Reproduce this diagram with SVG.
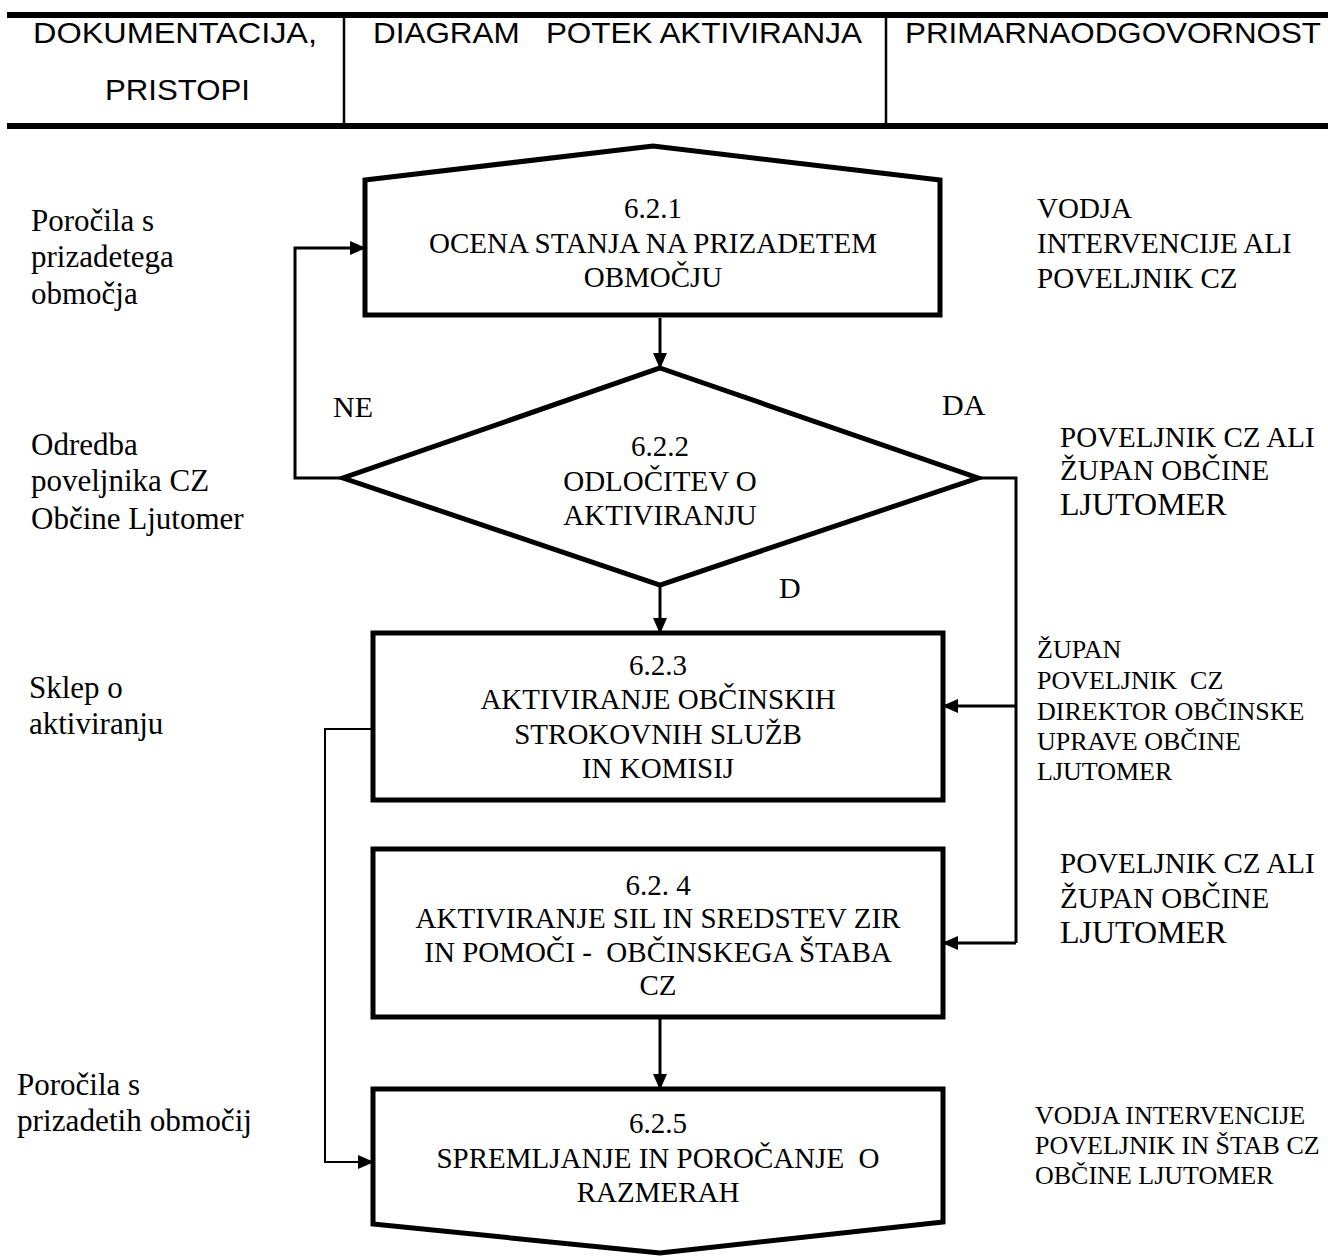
<svg xmlns="http://www.w3.org/2000/svg" width="1328" height="1257" viewBox="0 0 1328 1257">
<defs>
<marker id="ah" markerUnits="userSpaceOnUse" markerWidth="16" markerHeight="14" refX="15" refY="7" orient="auto">
<path d="M0,0 L16,7 L0,14 Z" fill="#000"/>
</marker>
<style>
.hd{font-family:"Liberation Sans",Arial,sans-serif;font-size:30px;fill:#000;white-space:pre}
.bx{font-family:"Liberation Serif","Times New Roman",serif;font-size:29px;fill:#000;text-anchor:middle;white-space:pre}
.lt{font-family:"Liberation Serif","Times New Roman",serif;font-size:31px;fill:#000}
.rt{font-family:"Liberation Serif","Times New Roman",serif;font-size:29px;fill:#000;white-space:pre}
.rs{font-family:"Liberation Serif","Times New Roman",serif;font-size:26px;fill:#000;white-space:pre}
.big{font-size:32px}
.lb{font-family:"Liberation Serif","Times New Roman",serif;font-size:30px;fill:#000}
.node{fill:#fff;stroke:#000;stroke-width:5;stroke-linejoin:miter}
.con{fill:none;stroke:#000;stroke-width:3}
.thin{fill:none;stroke:#000;stroke-width:2}
.rule{stroke:#000;stroke-width:6}
.div{stroke:#000;stroke-width:2.5}
</style>
</defs>
<rect width="1328" height="1257" fill="#fff"/>

<g id="header">
<line class="rule" x1="7" y1="15" x2="1328" y2="15"/>
<line class="rule" x1="7" y1="126" x2="1328" y2="126"/>
<line class="div" x1="344" y1="17" x2="344" y2="123"/>
<line class="div" x1="886" y1="17" x2="886" y2="123"/>
<text class="hd" x="33" y="43" textLength="284" lengthAdjust="spacingAndGlyphs">DOKUMENTACIJA,</text>
<text class="hd" x="105" y="100" textLength="145" lengthAdjust="spacingAndGlyphs">PRISTOPI</text>
<text class="hd" x="373" y="43" textLength="489" lengthAdjust="spacingAndGlyphs">DIAGRAM   POTEK AKTIVIRANJA</text>
<text class="hd" x="905" y="43" textLength="416" lengthAdjust="spacingAndGlyphs">PRIMARNAODGOVORNOST</text>
</g>

<g id="connectors">
<line class="con" x1="660" y1="318" x2="660" y2="368" marker-end="url(#ah)"/>
<polyline class="con" points="343,478 295,478 295,248 365,248" marker-end="url(#ah)"/>
<polyline class="con" points="978,478 1016,478 1016,943"/>
<line class="con" x1="1016" y1="706" x2="943" y2="706" marker-end="url(#ah)"/>
<line class="con" x1="1016" y1="943" x2="943" y2="943" marker-end="url(#ah)"/>
<line class="con" x1="660" y1="585" x2="660" y2="633" marker-end="url(#ah)"/>
<line class="con" x1="660" y1="1017" x2="660" y2="1089" marker-end="url(#ah)"/>
<polyline class="thin" points="373,729 325,729 325,1162 373,1162" marker-end="url(#ah)"/>
<text class="lb" x="333" y="417">NE</text>
<text class="lb" x="942" y="415">DA</text>
<text class="lb" x="779" y="598">D</text>
</g>

<g id="n621">
<polygon class="node" points="365,180 653,146 940,180 940,315 365,315"/>
<text class="bx" x="653" y="218">6.2.1</text>
<text class="bx" x="653" y="253">OCENA STANJA NA PRIZADETEM</text>
<text class="bx" x="653" y="287">OBMOČJU</text>
</g>

<g id="n622">
<polygon class="node" points="660,368 978,478 660,585 343,478"/>
<text class="bx" x="660" y="456">6.2.2</text>
<text class="bx" x="660" y="491">ODLOČITEV O</text>
<text class="bx" x="660" y="525">AKTIVIRANJU</text>
</g>

<g id="n623">
<rect class="node" x="373" y="633" width="570" height="167"/>
<text class="bx" x="658" y="675">6.2.3</text>
<text class="bx" x="658" y="709">AKTIVIRANJE OBČINSKIH</text>
<text class="bx" x="658" y="744">STROKOVNIH SLUŽB</text>
<text class="bx" x="658" y="778">IN KOMISIJ</text>
</g>

<g id="n624">
<rect class="node" x="373" y="849" width="570" height="168"/>
<text class="bx" x="658" y="895">6.2. 4</text>
<text class="bx" x="658" y="928">AKTIVIRANJE SIL IN SREDSTEV ZIR</text>
<text class="bx" x="658" y="962">IN POMOČI -  OBČINSKEGA ŠTABA</text>
<text class="bx" x="658" y="995">CZ</text>
</g>

<g id="n625">
<polygon class="node" points="373,1089 943,1089 943,1222 660,1253 373,1224"/>
<text class="bx" x="658" y="1133">6.2.5</text>
<text class="bx" x="658" y="1168">SPREMLJANJE IN POROČANJE  O</text>
<text class="bx" x="658" y="1202">RAZMERAH</text>
</g>

<g id="docs">
<text class="lt" x="31" y="231">Poročila s</text>
<text class="lt" x="31" y="267">prizadetega</text>
<text class="lt" x="31" y="304">območja</text>
<text class="lt" x="31" y="455">Odredba</text>
<text class="lt" x="31" y="491">poveljnika CZ</text>
<text class="lt" x="31" y="529">Občine Ljutomer</text>
<text class="lt" x="29" y="698">Sklep o</text>
<text class="lt" x="29" y="734">aktiviranju</text>
<text class="lt" x="17" y="1095">Poročila s</text>
<text class="lt" x="17" y="1131" textLength="235" lengthAdjust="spacingAndGlyphs">prizadetih območij</text>
</g>

<g id="responsibility">
<text class="rt" x="1037" y="218">VODJA</text>
<text class="rt" x="1037" y="253">INTERVENCIJE ALI</text>
<text class="rt" x="1037" y="288">POVELJNIK CZ</text>
<text class="rt" x="1060" y="447">POVELJNIK CZ ALI</text>
<text class="rt" x="1060" y="480">ŽUPAN OBČINE</text>
<text class="rt big" x="1060" y="515">LJUTOMER</text>
<text class="rs" x="1037" y="658">ŽUPAN</text>
<text class="rs" x="1037" y="689">POVELJNIK  CZ</text>
<text class="rs" x="1037" y="720">DIREKTOR OBČINSKE</text>
<text class="rs" x="1037" y="750">UPRAVE OBČINE</text>
<text class="rs" x="1037" y="780">LJUTOMER</text>
<text class="rt" x="1060" y="873">POVELJNIK CZ ALI</text>
<text class="rt" x="1060" y="908">ŽUPAN OBČINE</text>
<text class="rt big" x="1060" y="943">LJUTOMER</text>
<text class="rs" x="1035" y="1124">VODJA INTERVENCIJE</text>
<text class="rs" x="1035" y="1154">POVELJNIK IN ŠTAB CZ</text>
<text class="rs" x="1035" y="1184">OBČINE LJUTOMER</text>
</g>
</svg>
